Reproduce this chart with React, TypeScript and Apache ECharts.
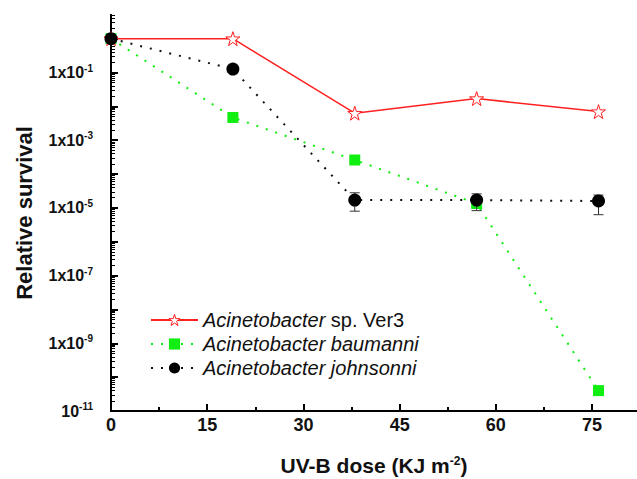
import React, { useEffect, useRef } from "react";
import * as echarts from "echarts";

const doses = [0, 19, 38, 57, 76];
const ver3 = [1, 1, 6.3e-3, 1.7e-2, 7e-3];
const baumanni = [1, 4.7e-3, 2.6e-4, 1.35e-5, 4e-11];
const johnsonni = [1, 0.126, 1.7e-5, 1.7e-5, 1.6e-5];
const johnsonniErrLow = [null, null, 8e-6, 8.3e-6, 6.3e-6];
const johnsonniErrHigh = [null, null, 2.8e-5, 2.6e-5, 2.4e-5];
const xMajorTicks = [0, 15, 30, 45, 60, 75];
const xMinorTicks = [7.5, 22.5, 37.5, 52.5, 67.5];
const yExponents = [-11, -10, -9, -8, -7, -6, -5, -4, -3, -2, -1, 0];
const yLabelExponents = [-11, -9, -7, -5, -3, -1];
const seriesNames = [
  "Acinetobacter sp. Ver3",
  "Acinetobacter baumanni",
  "Acinetobacter johnsonni",
];

const FONT = 'Arial, "Liberation Sans", Helvetica, sans-serif';
const STAR =
  "path://M50,2 L61,36 L97,36 L68,57 L79,92 L50,71 L21,92 L32,57 L3,36 L39,36 Z";
const RED = "#ff2020";

export default function App() {
  const ref = useRef<HTMLDivElement>(null);
  useEffect(() => {
    if (!ref.current) return;
    const chart = echarts.init(ref.current, null, { renderer: "svg" });
    const majorY = yExponents.map((e) => Math.pow(10, e));
    const minorY: number[] = [];
    yExponents.forEach((e) => {
      for (let k = 2; k <= 9; k++) {
        const v = k * Math.pow(10, e);
        if (v <= 5) minorY.push(v);
      }
    });
    const labelY = yLabelExponents.map((e) => Math.pow(10, e));
    const pair = (arr: number[]) => doses.map((d, i) => [d, arr[i]]);
    const errData = doses
      .map((d, i) => [d, johnsonniErrLow[i], johnsonniErrHigh[i]])
      .filter((r) => r[1] != null);

    const axisLine = { show: true, onZero: false, lineStyle: { color: "#000", width: 2 } };
    const yBase = {
      type: "log",
      logBase: 10,
      min: 1e-11,
      max: 5,
      splitLine: { show: false },
      minorTick: { show: false },
      minorSplitLine: { show: false },
    };

    chart.setOption({
      animation: false,
      backgroundColor: "#fff",
      grid: { left: 111, right: 0, top: 15, bottom: 68, containLabel: false, outerBoundsMode: "none" },
      legend: {
        orient: "vertical",
        left: 145,
        top: 305,
        itemWidth: 47,
        itemHeight: 14,
        itemGap: 4,
        data: [
          { name: seriesNames[0], itemStyle: { color: "#fff", borderColor: RED, borderWidth: 1 } },
          { name: seriesNames[1] },
          { name: seriesNames[2] },
        ],
        formatter: (name: string) => {
          const rest = name.replace("Acinetobacter ", "");
          if (rest.startsWith("sp.")) return "{i|Acinetobacter} {n|" + rest + "}";
          return "{i|Acinetobacter " + rest + "}";
        },
        textStyle: {
          fontFamily: FONT,
          fontSize: 20,
          color: "#111",
          rich: {
            i: { fontStyle: "italic", fontSize: 20, fontFamily: FONT, color: "#111", lineHeight: 20 },
            n: { fontSize: 20, fontFamily: FONT, color: "#111", lineHeight: 20 },
          },
        },
      },
      xAxis: [
        {
          type: "value",
          min: 0,
          max: 82,
          interval: 15,
          name: "UV-B dose (KJ m{sup|-2})",
          nameLocation: "middle",
          nameGap: 44,
          nameTextStyle: {
            fontFamily: FONT,
            fontSize: 21,
            fontWeight: "bold",
            color: "#111",
            lineHeight: 21,
            rich: {
              sup: { fontSize: 12, fontWeight: "bold", fontFamily: FONT, color: "#111", verticalAlign: "top", padding: [0, 0, 11, 0] },
            },
          },
          axisLine,
          axisTick: { show: true, inside: true, length: 7, lineStyle: { color: "#000", width: 2 }, customValues: xMajorTicks },
          axisLabel: {
            customValues: xMajorTicks,
            margin: 5,
            fontFamily: FONT,
            fontSize: 18,
            fontWeight: "bold",
            color: "#111",
          },
          splitLine: { show: false },
        },
        {
          type: "value",
          min: 0,
          max: 82,
          interval: 15,
          position: "bottom",
          axisLine,
          axisTick: { show: true, inside: true, length: 4, lineStyle: { color: "#000", width: 2 }, customValues: xMinorTicks },
          axisLabel: { show: false },
          splitLine: { show: false },
        },
      ],
      yAxis: [
        {
          ...yBase,
          name: "Relative survival",
          nameLocation: "middle",
          nameGap: 76,
          nameTextStyle: { fontFamily: FONT, fontSize: 22, fontWeight: "bold", color: "#111" },
          axisLine,
          axisTick: { show: true, inside: true, length: 7, lineStyle: { color: "#000", width: 2 }, customValues: majorY },
          axisLabel: {
            customValues: labelY,
            margin: 18,
            fontFamily: FONT,
            fontSize: 16,
            fontWeight: "bold",
            color: "#111",
            formatter: (v: number) => {
              const e = Math.round(Math.log10(v));
              if (e === -11) return "{b|10}{sup|" + e + "}";
              return "{b|1x10}{sup|" + e + "}";
            },
            rich: {
              b: { fontFamily: FONT, fontSize: 16, fontWeight: "bold", color: "#111" },
              sup: { fontFamily: FONT, fontSize: 10, fontWeight: "bold", color: "#111", verticalAlign: "top", padding: [0, 0, 9, 0] },
            },
          },
        },
        {
          ...yBase,
          position: "left",
          axisLine,
          axisTick: { show: true, inside: true, length: 4, lineStyle: { color: "#000", width: 1 }, customValues: minorY },
          axisLabel: { show: false },
        },
      ],
      series: [
        {
          name: seriesNames[0],
          type: "line",
          data: pair(ver3),
          symbol: STAR,
          symbolSize: 14,
          lineStyle: { color: RED, width: 1.5, type: "solid" },
          itemStyle: { color: "#fff", borderColor: RED, borderWidth: 1 },
          z: 3,
        },
        {
          name: seriesNames[1],
          type: "line",
          data: pair(baumanni),
          symbol: "rect",
          symbolSize: 11,
          lineStyle: { color: "#11ee11", width: 2, type: [2, 8] },
          itemStyle: { color: "#11ee11" },
          z: 2,
        },
        {
          name: seriesNames[2],
          type: "line",
          data: pair(johnsonni),
          symbol: "circle",
          symbolSize: 13,
          lineStyle: { color: "#111", width: 2, type: [2, 8] },
          itemStyle: { color: "#000" },
          z: 4,
        },
        {
          type: "custom",
          z: 3,
          data: errData,
          renderItem: (params: any, api: any) => {
            const x = api.value(0);
            const lo = api.coord([x, api.value(1)]);
            const hi = api.coord([x, api.value(2)]);
            const w = 5;
            const st = { stroke: "#333", lineWidth: 1 };
            return {
              type: "group",
              children: [
                { type: "line", shape: { x1: lo[0], y1: lo[1], x2: hi[0], y2: hi[1] }, style: st },
                { type: "line", shape: { x1: lo[0] - w, y1: lo[1], x2: lo[0] + w, y2: lo[1] }, style: st },
                { type: "line", shape: { x1: hi[0] - w, y1: hi[1], x2: hi[0] + w, y2: hi[1] }, style: st },
              ],
            };
          },
        },
      ],
    });
    return () => chart.dispose();
  }, []);
  return (
    <div
      ref={ref}
      style={{ position: "fixed", left: 0, top: 0, width: 637, height: 479 }}
    />
  );
}
